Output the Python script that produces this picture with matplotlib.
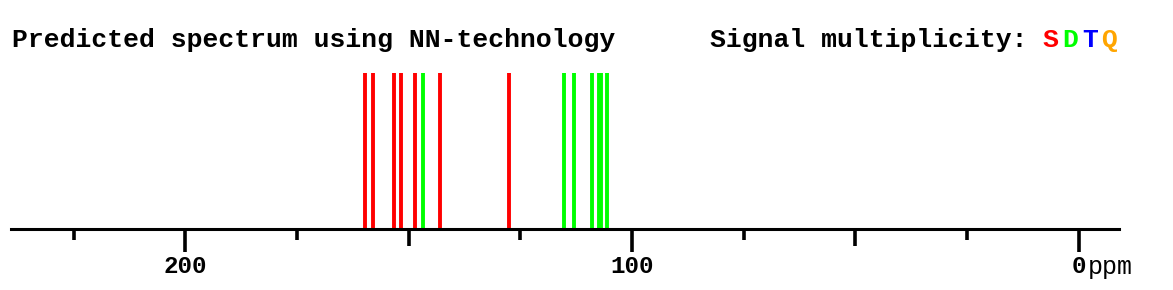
import matplotlib
matplotlib.use("Agg")
import matplotlib.pyplot as plt
from matplotlib.transforms import offset_copy

# predicted 13C shifts (ppm), grouped by multiplicity
singlet_ppm = [159.7, 157.9, 153.2, 151.7, 148.5, 143.0, 127.6]
doublet_ppm = [146.8, 115.2, 113.0, 109.0, 107.5, 106.9, 105.6]
major_ticks = [200, 100, 0]
mid_ticks = [150, 50]
minor_ticks = [225, 175, 125, 75, 25]
major_labels = ['200', '100', '0']

RED, GREEN, BLUE, ORANGE = '#ff0000', '#00ff00', '#0000ff', '#ffa500'
mono = 'Liberation Mono'
W, H = 1173, 290

fig = plt.figure(figsize=(W / 100, H / 100), dpi=100)
ax = fig.add_axes([11 / W, 61 / H, (1119 - 11) / W, (217 - 61) / H])
ax.set_xlim(239.0, -9.0)
ax.set_ylim(0, 1)

ax.vlines(singlet_ppm, 0, 1, color=RED, lw=2.8)
ax.vlines(doublet_ppm, 0, 1, color=GREEN, lw=2.8)

for s in ['top', 'right', 'left']:
    ax.spines[s].set_visible(False)
ax.spines['bottom'].set_linewidth(2.2)
ax.set_yticks([])

lfs = 17.5
ax.set_xticks(major_ticks)
ax.set_xticklabels(major_labels, fontfamily=mono, fontweight='bold', fontsize=lfs)
ax.set_xticks(minor_ticks, minor=True)
ax.tick_params(axis='x', which='major', length=16.5, width=2.6, pad=2)
ax.tick_params(axis='x', which='minor', length=8.2, width=2.6)

sec = ax.secondary_xaxis(0)
sec.spines['bottom'].set_visible(False)
sec.set_xticks(mid_ticks)
sec.set_xticklabels([])
sec.tick_params(axis='x', length=12.3, width=2.6)

# "ppm" unit right after the 0 label
ax.annotate('ppm', xy=(0, 0), xycoords='data', xytext=(6.5, -18.5), textcoords='offset points',
            ha='left', va='top', fontfamily=mono, fontsize=18)

fs = 19
fig.text(12 / W, 1 - 47.5 / H, 'Predicted spectrum using NN-technology', fontfamily=mono,
         fontweight='bold', fontsize=fs, va='baseline', ha='left')
label = 'Signal multiplicity: '
x0, y0 = 710 / W, 1 - 47.5 / H
fig.text(x0, y0, label, fontfamily=mono, fontweight='bold', fontsize=fs, va='baseline', ha='left')
s_start = 0.6 * fs * len(label)
step = 19.7 * 72 / 100
for i, (ch, c) in enumerate(zip('SDTQ', [RED, GREEN, BLUE, ORANGE])):
    tr = offset_copy(fig.transFigure, fig=fig, x=s_start + step * i, y=0, units='points')
    fig.text(x0, y0, ch, color=c, transform=tr, fontfamily=mono, fontweight='bold',
             fontsize=fs, va='baseline', ha='left')

fig.savefig('out.png', dpi=100)
